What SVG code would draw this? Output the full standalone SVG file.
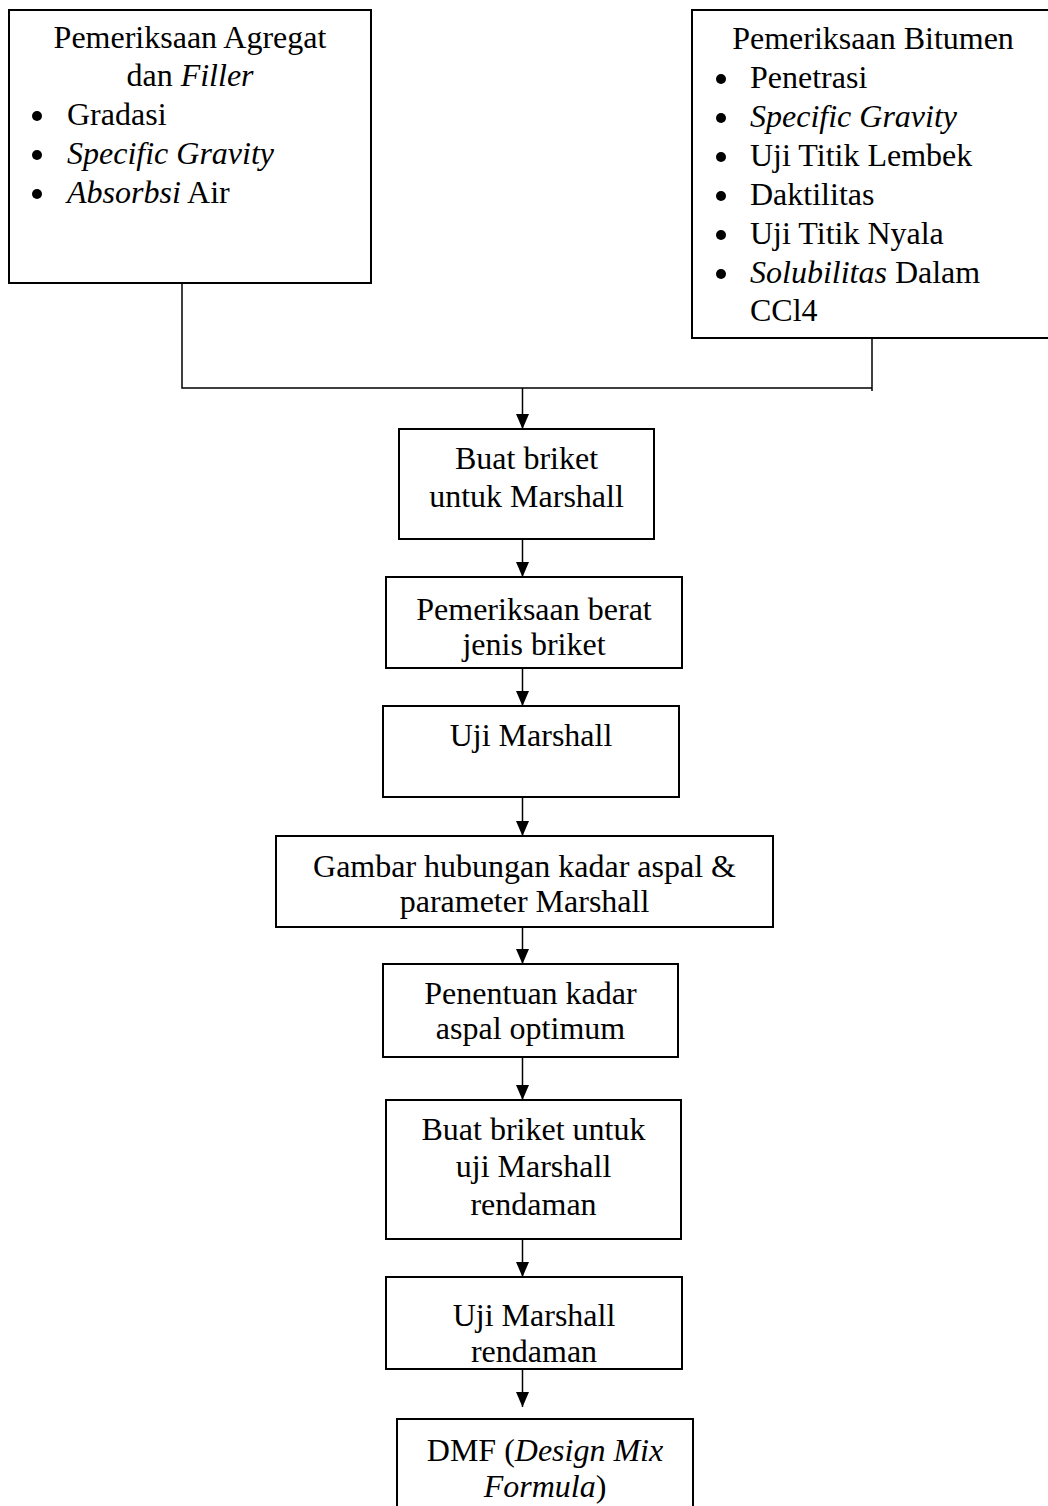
<svg xmlns="http://www.w3.org/2000/svg" width="1048" height="1506" viewBox="0 0 1048 1506">
<style>
.box{fill:#fff;stroke:#000;stroke-width:2}
.conn{fill:none;stroke:#000;stroke-width:1.5}
.arr{fill:none;stroke:#000;stroke-width:1.5;marker-end:url(#ah)}
.bul{fill:#000}
text{font-family:"Liberation Serif","Times New Roman",serif;font-size:32px;fill:#000}
.c{text-anchor:middle}
.i{font-style:italic}
</style>
<defs>
<marker id="ah" viewBox="0 0 15 13" refX="15" refY="6.5" markerWidth="15" markerHeight="13" markerUnits="userSpaceOnUse" orient="auto">
<path d="M0,0 L15,6.5 L0,13 z" fill="#000"/>
</marker>
</defs>
<rect width="1048" height="1506" fill="#fff"/>
<g id="connectors">
<polyline class="conn" points="182,283 182,388 872,388"/>
<line class="conn" x1="872" y1="338" x2="872" y2="391"/>
<line class="arr" x1="522.5" y1="388" x2="522.5" y2="429"/>
<line class="arr" x1="522.5" y1="539" x2="522.5" y2="577"/>
<line class="arr" x1="522.5" y1="668" x2="522.5" y2="706"/>
<line class="arr" x1="522.5" y1="797" x2="522.5" y2="836"/>
<line class="arr" x1="522.5" y1="927" x2="522.5" y2="964"/>
<line class="arr" x1="522.5" y1="1057" x2="522.5" y2="1100"/>
<line class="arr" x1="522.5" y1="1239" x2="522.5" y2="1277"/>
<line class="arr" x1="522.5" y1="1369" x2="522.5" y2="1407"/>
</g>
<g id="agregat">
<rect class="box" x="9" y="10" width="362" height="273"/>
<text class="c" x="190" y="48">Pemeriksaan Agregat</text>
<text class="c" x="190" y="86">dan <tspan class="i">Filler</tspan></text>
<circle class="bul" cx="37" cy="116" r="5"/>
<text x="67" y="125">Gradasi</text>
<circle class="bul" cx="37" cy="155" r="5"/>
<text x="67" y="164" class="i">Specific Gravity</text>
<circle class="bul" cx="37" cy="194" r="5"/>
<text x="67" y="203"><tspan class="i">Absorbsi</tspan> Air</text>
</g>
<g id="bitumen">
<rect class="box" x="692" y="10" width="362" height="328"/>
<text class="c" x="873" y="49">Pemeriksaan Bitumen</text>
<circle class="bul" cx="721" cy="79" r="5"/>
<text x="750" y="88">Penetrasi</text>
<circle class="bul" cx="721" cy="118" r="5"/>
<text x="750" y="127" class="i">Specific Gravity</text>
<circle class="bul" cx="721" cy="157" r="5"/>
<text x="750" y="166">Uji Titik Lembek</text>
<circle class="bul" cx="721" cy="196" r="5"/>
<text x="750" y="205">Daktilitas</text>
<circle class="bul" cx="721" cy="235" r="5"/>
<text x="750" y="244">Uji Titik Nyala</text>
<circle class="bul" cx="721" cy="274" r="5"/>
<text x="750" y="283"><tspan class="i">Solubilitas</tspan> Dalam</text>
<text x="750" y="321">CCl4</text>
</g>
<g id="buat-briket">
<rect class="box" x="399" y="429" width="255" height="110"/>
<text class="c" x="526.5" y="469">Buat briket</text>
<text class="c" x="526.5" y="507">untuk Marshall</text>
</g>
<g id="berat-jenis">
<rect class="box" x="386" y="577" width="296" height="91"/>
<text class="c" x="534" y="620">Pemeriksaan berat</text>
<text class="c" x="534" y="655">jenis briket</text>
</g>
<g id="uji-marshall">
<rect class="box" x="383" y="706" width="296" height="91"/>
<text class="c" x="531" y="746">Uji Marshall</text>
</g>
<g id="gambar">
<rect class="box" x="276" y="836" width="497" height="91"/>
<text class="c" x="524.5" y="877">Gambar hubungan kadar aspal &amp;</text>
<text class="c" x="524.5" y="912">parameter Marshall</text>
</g>
<g id="penentuan">
<rect class="box" x="383" y="964" width="295" height="93"/>
<text class="c" x="530.5" y="1004">Penentuan kadar</text>
<text class="c" x="530.5" y="1039">aspal optimum</text>
</g>
<g id="briket-rendaman">
<rect class="box" x="386" y="1100" width="295" height="139"/>
<text class="c" x="533.5" y="1140">Buat briket untuk</text>
<text class="c" x="533.5" y="1177">uji Marshall</text>
<text class="c" x="533.5" y="1215">rendaman</text>
</g>
<g id="uji-rendaman">
<rect class="box" x="386" y="1277" width="296" height="92"/>
<text class="c" x="534" y="1326">Uji Marshall</text>
<text class="c" x="534" y="1362">rendaman</text>
</g>
<g id="dmf">
<rect class="box" x="397" y="1419" width="296" height="100"/>
<text class="c" x="545" y="1461">DMF (<tspan class="i">Design Mix</tspan></text>
<text class="c" x="545" y="1497"><tspan class="i">Formula</tspan>)</text>
</g>
</svg>
